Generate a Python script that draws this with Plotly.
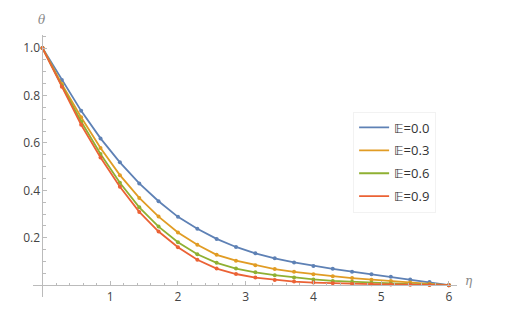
import plotly.graph_objects as go

# eta grid (22 sample points on [0, 6])
eta = [0.0, 0.286, 0.571, 0.857, 1.143, 1.429, 1.714, 2.0, 2.286, 2.571, 2.857,
       3.143, 3.429, 3.714, 4.0, 4.286, 4.571, 4.857, 5.143, 5.429, 5.714, 6.0]

theta_00 = [1.0, 0.865, 0.735, 0.619, 0.518, 0.429, 0.354, 0.288, 0.238, 0.195, 0.161,
            0.134, 0.113, 0.096, 0.081, 0.069, 0.057, 0.046, 0.035, 0.024, 0.013, 0.0]
theta_03 = [1.0, 0.848, 0.708, 0.578, 0.464, 0.368, 0.289, 0.222, 0.170, 0.128, 0.103,
            0.084, 0.068, 0.056, 0.046, 0.038, 0.030, 0.023, 0.017, 0.011, 0.005, 0.0]
theta_06 = [1.0, 0.841, 0.690, 0.553, 0.432, 0.328, 0.247, 0.181, 0.130, 0.094, 0.070,
            0.054, 0.042, 0.032, 0.024, 0.018, 0.014, 0.010, 0.007, 0.004, 0.002, 0.0]
theta_09 = [1.0, 0.837, 0.676, 0.538, 0.415, 0.309, 0.226, 0.160, 0.107, 0.070, 0.047,
            0.032, 0.022, 0.015, 0.011, 0.008, 0.005, 0.004, 0.003, 0.002, 0.001, 0.0]

labels = ['\U0001D53C=0.0', '\U0001D53C=0.3', '\U0001D53C=0.6', '\U0001D53C=0.9']
colors = ['#5E81B5', '#E19C24', '#8FB032', '#EB6235']

x_ticks = [1, 2, 3, 4, 5, 6]
y_ticks = [0.2, 0.4, 0.6, 0.8, 1.0]

x_range = [-0.14, 6.12]
y_range = [-0.05, 1.055]

fig = go.Figure()
for i, (series, name, color) in enumerate(zip([theta_00, theta_03, theta_06, theta_09],
                                              labels, colors)):
    fig.add_trace(go.Scatter(x=eta, y=series, mode='lines', name=name,
                             legendgroup=f'g{i}',
                             line=dict(color=color, width=1.8)))
    fig.add_trace(go.Scatter(x=eta, y=series, mode='markers', showlegend=False,
                             legendgroup=f'g{i}',
                             marker=dict(color=color, size=4)))

tick_font = dict(family='Open Sans, DejaVu Sans, sans-serif', size=12, color='#444444')

fig.update_xaxes(range=x_range, showgrid=False, zeroline=False,
                 showline=True, linecolor='#bbbbbb', linewidth=1,
                 anchor='free',
                 position=(0 - y_range[0]) / (y_range[1] - y_range[0]),
                 tickvals=x_ticks, ticktext=[str(v) for v in x_ticks],
                 ticks='inside', ticklen=4, tickcolor='#bbbbbb', tickfont=tick_font,
                 minor=dict(dtick=0.2, tick0=0, ticks='inside', ticklen=2.5,
                            tickcolor='#bbbbbb', showgrid=False))
fig.update_yaxes(range=y_range, showgrid=False, zeroline=False,
                 showline=True, linecolor='#bbbbbb', linewidth=1,
                 anchor='free',
                 position=(0 - x_range[0]) / (x_range[1] - x_range[0]),
                 tickvals=y_ticks, ticktext=[f'{v:.1f}' for v in y_ticks],
                 ticks='inside', ticklen=4, tickcolor='#bbbbbb', tickfont=tick_font,
                 minor=dict(dtick=0.05, tick0=0, ticks='inside', ticklen=2.5,
                            tickcolor='#bbbbbb', showgrid=False))

fig.add_annotation(x=0, y=1.0, xref='x', yref='paper', text='<i>θ</i>',
                   showarrow=False, yanchor='bottom', yshift=6,
                   font=dict(family='DejaVu Serif, serif', size=12, color='#888888'))
fig.add_annotation(x=6.12, y=0, xref='x', yref='y', text='<i>η</i>',
                   showarrow=False, xanchor='left', xshift=6, yshift=4,
                   font=dict(family='DejaVu Serif, serif', size=12, color='#888888'))

# page body has an 8px margin, so shift margins to keep the plot area in place
fig.update_layout(
    width=515, height=320,
    margin=dict(l=25, r=66, t=27, b=31),
    plot_bgcolor='white', paper_bgcolor='white',
    showlegend=True,
    legend=dict(x=0.755, y=0.708, xanchor='left', yanchor='top',
                bgcolor='white', bordercolor='#f2f2f2', borderwidth=1,
                font=dict(family='Open Sans, DejaVu Sans, sans-serif', size=13,
                          color='#333333'),
                tracegroupgap=3, itemwidth=30),
)

fig.write_html("out.html")
